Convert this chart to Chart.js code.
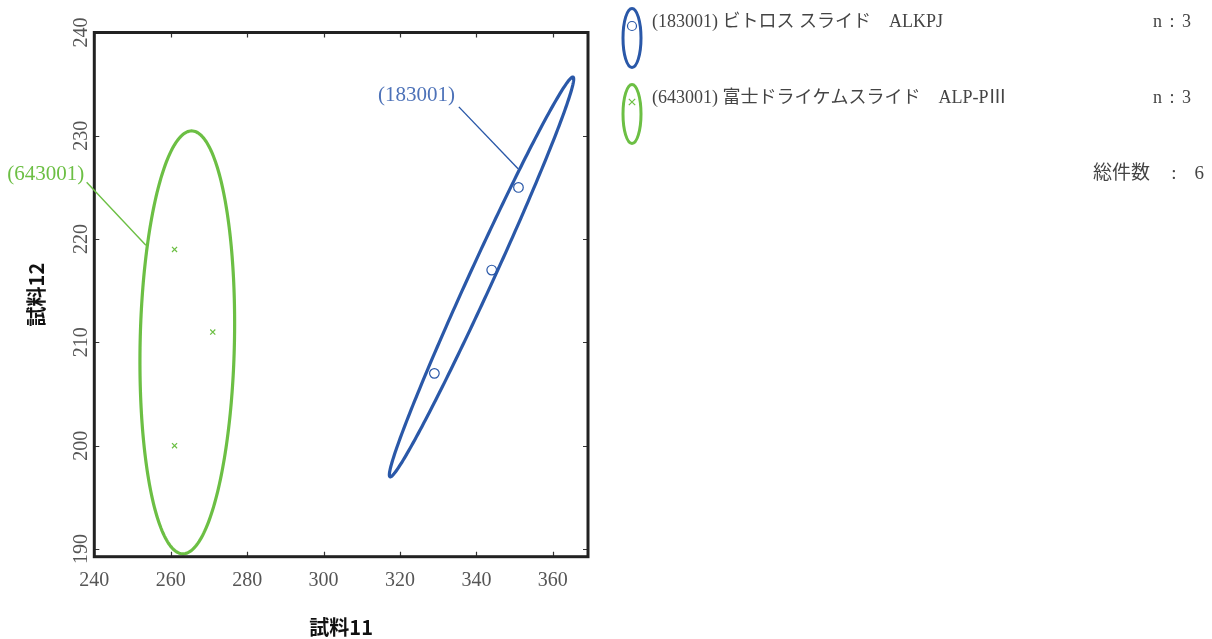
<!DOCTYPE html>
<html>
<head>
<meta charset="utf-8">
<script src="https://cdn.jsdelivr.net/npm/chart.js@4.4.1/dist/chart.umd.min.js"></script>
<style>
  html, body { margin: 0; padding: 0; background: #ffffff; }
  #wrap { width: 1212px; height: 639px; }
</style>
</head>
<body>
<div id="wrap"><canvas id="chart" width="1212" height="639"></canvas></div>
<script>
// Reagent groups (method codes and names)
const groupCodes = ['183001', '643001'];
const groupNames = ['(183001) ビトロス スライド　ALKPJ', '(643001) 富士ドライケムスライド　ALP-PⅢ'];

// Measured values: 試料11 (x) and 試料12 (y)
const sample11_183001 = [329, 344, 351];
const sample12_183001 = [207, 217, 225];
const sample11_643001 = [261, 271, 261];
const sample12_643001 = [219, 211, 200];

// Axis tick labels
const xTickValues = [240, 260, 280, 300, 320, 340, 360];
const yTickValues = [190, 200, 210, 220, 230, 240];

const BLUE = '#2a58a8';
const BLUE_TEXT = '#4d72b8';
const GREEN = '#6cbf44';
const FRAME = '#222222';
const SERIF = '"Liberation Serif", "Noto Sans CJK JP", serif';
const GOTHIC = '"Noto Sans CJK JP", "Noto Sans", sans-serif';

// chi-square (2 dof) at 90% — size of the confidence ellipse
const CHI2_90 = 4.605;

function toPoints(xs, ys) {
  return xs.map((x, i) => ({ x: x, y: ys[i] }));
}

// Confidence ellipse of a point cloud, returned as data-space outline points
function confidenceEllipse(xs, ys, steps) {
  const n = xs.length;
  const mx = xs.reduce((a, b) => a + b, 0) / n;
  const my = ys.reduce((a, b) => a + b, 0) / n;
  let sxx = 0, syy = 0, sxy = 0;
  for (let i = 0; i < n; i++) {
    const dx = xs[i] - mx, dy = ys[i] - my;
    sxx += dx * dx; syy += dy * dy; sxy += dx * dy;
  }
  sxx /= (n - 1); syy /= (n - 1); sxy /= (n - 1);
  const tr = (sxx + syy) / 2;
  const disc = Math.sqrt(Math.max(0, tr * tr - (sxx * syy - sxy * sxy)));
  const l1 = tr + disc, l2 = Math.max(tr - disc, 0);
  let vx, vy;
  if (Math.abs(sxy) > 1e-12) { vx = sxy; vy = l1 - sxx; }
  else if (sxx >= syy) { vx = 1; vy = 0; } else { vx = 0; vy = 1; }
  const len = Math.hypot(vx, vy);
  vx /= len; vy /= len;
  const a = Math.sqrt(CHI2_90 * l1), b = Math.sqrt(CHI2_90 * l2);
  const pts = [];
  for (let k = 0; k <= steps; k++) {
    const t = (k / steps) * Math.PI * 2;
    const c = Math.cos(t) * a, s = Math.sin(t) * b;
    pts.push({ x: mx + c * vx - s * vy, y: my + c * vy + s * vx });
  }
  return pts;
}

const groups = [
  { code: groupCodes[0], name: groupNames[0], xs: sample11_183001, ys: sample12_183001, color: BLUE, textColor: BLUE_TEXT, marker: 'circle' },
  { code: groupCodes[1], name: groupNames[1], xs: sample11_643001, ys: sample12_643001, color: GREEN, textColor: GREEN, marker: 'crossRot' }
];

// Callout labels: text anchor, leader start and the point where it meets the ellipse (data units)
const callouts = [
  { group: 0, text: [324.3, 233.9], from: [335.4, 232.8], to: [350.9, 226.8] },
  { group: 1, text: [227.3, 226.3], from: [238.0, 225.5], to: [253.5, 219.4] }
];

const ellipsePlugin = {
  id: 'ellipses',
  beforeDatasetsDraw(chart) {
    const { ctx } = chart;
    const xs = chart.scales.x, ys = chart.scales.y;
    ctx.save();
    groups.forEach(g => {
      const pts = confidenceEllipse(g.xs, g.ys, 240);
      ctx.beginPath();
      pts.forEach((p, i) => {
        const px = xs.getPixelForValue(p.x), py = ys.getPixelForValue(p.y);
        if (i === 0) ctx.moveTo(px, py); else ctx.lineTo(px, py);
      });
      ctx.closePath();
      ctx.lineWidth = 3.2;
      ctx.strokeStyle = g.color;
      ctx.stroke();
    });
    ctx.restore();
  }
};

const framePlugin = {
  id: 'frame',
  afterDraw(chart) {
    const { ctx, chartArea: a } = chart;
    const xs = chart.scales.x, ys = chart.scales.y;
    ctx.save();
    // inward tick marks on all four sides
    ctx.strokeStyle = '#333';
    ctx.lineWidth = 1.2;
    const tl = 5;
    xTickValues.forEach(v => {
      const px = Math.round(xs.getPixelForValue(v)) + 0.5;
      ctx.beginPath();
      ctx.moveTo(px, a.bottom); ctx.lineTo(px, a.bottom - tl);
      ctx.moveTo(px, a.top); ctx.lineTo(px, a.top + tl);
      ctx.stroke();
    });
    yTickValues.forEach(v => {
      const py = Math.round(ys.getPixelForValue(v)) + 0.5;
      ctx.beginPath();
      ctx.moveTo(a.left, py); ctx.lineTo(a.left + tl, py);
      ctx.moveTo(a.right, py); ctx.lineTo(a.right - tl, py);
      ctx.stroke();
    });
    // plot frame
    ctx.strokeStyle = FRAME;
    ctx.lineWidth = 3;
    ctx.strokeRect(a.left, a.top, a.right - a.left, a.bottom - a.top);
    ctx.restore();
  }
};

const calloutPlugin = {
  id: 'callouts',
  afterDraw(chart) {
    const { ctx } = chart;
    const xs = chart.scales.x, ys = chart.scales.y;
    ctx.save();
    callouts.forEach(c => {
      const g = groups[c.group];
      ctx.strokeStyle = g.color;
      ctx.lineWidth = 1.4;
      ctx.beginPath();
      ctx.moveTo(xs.getPixelForValue(c.from[0]), ys.getPixelForValue(c.from[1]));
      ctx.lineTo(xs.getPixelForValue(c.to[0]), ys.getPixelForValue(c.to[1]));
      ctx.stroke();
      ctx.fillStyle = g.textColor;
      ctx.font = '21px ' + SERIF;
      ctx.textAlign = 'center';
      ctx.textBaseline = 'middle';
      ctx.fillText('(' + g.code + ')', xs.getPixelForValue(c.text[0]), ys.getPixelForValue(c.text[1]));
    });
    ctx.restore();
  }
};

function drawMarker(ctx, style, x, y, color) {
  ctx.strokeStyle = color;
  ctx.lineWidth = 1.2;
  ctx.beginPath();
  if (style === 'circle') {
    ctx.arc(x, y, 4.5, 0, Math.PI * 2);
  } else {
    const r = 3.2;
    ctx.moveTo(x - r, y - r); ctx.lineTo(x + r, y + r);
    ctx.moveTo(x + r, y - r); ctx.lineTo(x - r, y + r);
  }
  ctx.stroke();
}

const sideLegendPlugin = {
  id: 'sideLegend',
  afterDraw(chart) {
    const { ctx } = chart;
    ctx.save();
    const rowY = [38, 114];
    const textY = [22, 98];
    groups.forEach((g, i) => {
      ctx.strokeStyle = g.color;
      ctx.lineWidth = 3;
      ctx.beginPath();
      ctx.ellipse(632, rowY[i], 9, 29.5, 0, 0, Math.PI * 2);
      ctx.stroke();
      drawMarker(ctx, g.marker, 632, rowY[i] - 12, g.color);
      ctx.fillStyle = '#444';
      ctx.font = '18px ' + SERIF;
      ctx.textBaseline = 'middle';
      ctx.textAlign = 'left';
      ctx.fillText(g.name, 652, textY[i]);
      // count: "n : 3"
      ctx.textAlign = 'left';
      ctx.fillText('n', 1153, textY[i]);
      ctx.textAlign = 'center';
      ctx.fillText(':', 1172, textY[i]);
      ctx.textAlign = 'right';
      ctx.fillText(String(g.xs.length), 1191, textY[i]);
    });
    const total = groups.reduce((s, g) => s + g.xs.length, 0);
    ctx.font = '19px ' + SERIF;
    ctx.fillStyle = '#444';
    ctx.textBaseline = 'middle';
    ctx.textAlign = 'left';
    ctx.fillText('総件数', 1093, 174);
    ctx.textAlign = 'center';
    ctx.fillText(':', 1174, 174);
    ctx.textAlign = 'right';
    ctx.fillText(String(total), 1204, 174);
    ctx.restore();
  }
};

new Chart(document.getElementById('chart'), {
  type: 'scatter',
  data: {
    datasets: groups.map(g => ({
      label: g.name,
      data: toPoints(g.xs, g.ys),
      pointStyle: g.marker,
      pointRadius: g.marker === 'circle' ? 4.8 : 3.6,
      pointBorderWidth: 1.2,
      borderColor: g.color,
      backgroundColor: 'rgba(0,0,0,0)',
      pointHoverRadius: 5
    }))
  },
  options: {
    responsive: false,
    animation: false,
    layout: { padding: { left: 0, top: 32.5, right: 624, bottom: 0 } },
    plugins: {
      legend: { display: false },
      tooltip: { enabled: false }
    },
    scales: {
      x: {
        type: 'linear',
        min: 240,
        max: 369.2,
        afterBuildTicks(scale) { scale.ticks = xTickValues.map(v => ({ value: v })); },
        afterFit(scale) { scale.height = 82.3; },
        grid: { display: false, drawTicks: false },
        border: { display: false },
        ticks: {
          padding: 12,
          color: '#555',
          font: { family: SERIF, size: 20 },
          maxRotation: 0,
          minRotation: 0
        },
        title: {
          display: true,
          text: '試料11',
          color: '#111',
          font: { family: GOTHIC, size: 20, weight: 'bold' },
          padding: { top: 0, bottom: 0 }
        }
      },
      y: {
        type: 'linear',
        min: 189.25,
        max: 240,
        afterBuildTicks(scale) { scale.ticks = yTickValues.map(v => ({ value: v })); },
        afterFit(scale) { scale.width = 94.3; },
        grid: { display: false, drawTicks: false },
        border: { display: false },
        ticks: {
          padding: -2,
          crossAlign: 'center',
          minRotation: 90,
          maxRotation: 90,
          color: '#555',
          font: { family: SERIF, size: 20 }
        },
        title: {
          display: true,
          text: '試料12',
          color: '#111',
          font: { family: GOTHIC, size: 20, weight: 'bold' },
          padding: { top: 24, bottom: 0 }
        }
      }
    }
  },
  plugins: [ellipsePlugin, framePlugin, calloutPlugin, sideLegendPlugin]
});
</script>
</body>
</html>
